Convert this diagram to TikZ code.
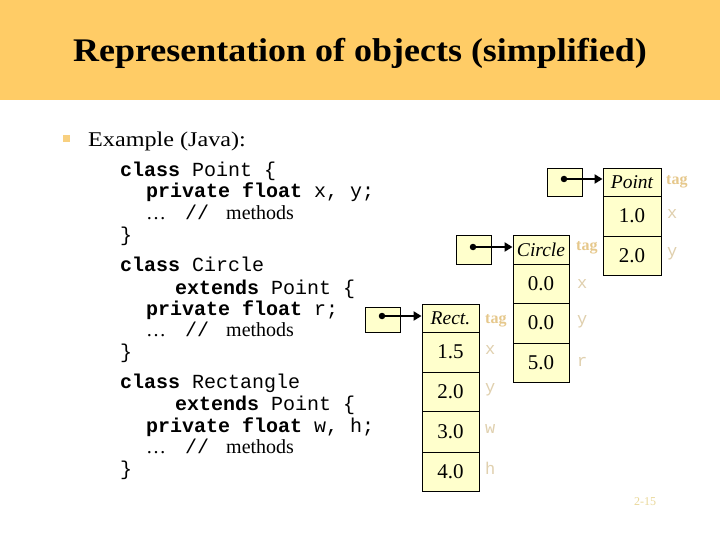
\documentclass[tikz,border=0pt]{standalone}
\usepackage{fontspec}
\setmainfont{Liberation Serif}
\setmonofont{Liberation Mono}
\usetikzlibrary{arrows.meta}
\definecolor{hdr}{HTML}{FFCC66}
\definecolor{cellfill}{HTML}{FFFFCC}
\definecolor{tagc}{HTML}{E6C88C}
\definecolor{fldc}{HTML}{E0D0AE}
\definecolor{pgc}{HTML}{EAD89A}
\definecolor{bul}{HTML}{F8D080}
\tikzset{
  cell/.style={draw=black, line width=0.9pt, fill=cellfill, inner sep=0pt, font=\fontsize{21}{23}\selectfont},
  tagcell/.style={cell, font=\fontsize{19.5}{21}\selectfont\itshape},
  ptr/.style={draw=black, line width=0.9pt, fill=cellfill, inner sep=0pt, minimum width=35pt},
  code/.style={anchor=base west, inner sep=0pt, font=\fontsize{20}{22}\selectfont\ttfamily},
  codert/.style={anchor=base west, inner sep=0pt, font=\fontsize{20}{22}\selectfont\rmfamily},
  taglbl/.style={anchor=west, inner sep=0pt, text=tagc, font=\fontsize{16}{18}\selectfont\bfseries},
  fldlbl/.style={anchor=west, inner sep=0pt, text=fldc, font=\fontsize{17}{19}\selectfont\ttfamily},
  refarrow/.style={line width=2.8pt, -{Triangle[length=8pt,width=9pt]}},
  dotmark/.style={circle, fill=black, inner sep=0pt, minimum size=6.5pt}
}
\begin{document}
\begin{tikzpicture}[x=1pt,y=-1pt]
\useasboundingbox (0,0) rectangle (720,540);
\fill[white] (0,0) rectangle (720,540);
\fill[hdr] (0,0) rectangle (720,100);
\node[anchor=base, inner sep=0pt, font=\fontsize{33}{36}\selectfont\bfseries] (title) at (360,62) {\scalebox{1.09}[1]{Representation of objects (simplified)}};
% bullet
\node[fill=bul, minimum size=7pt, inner sep=0pt] (bullet) at (66,139) {};
\node[anchor=base west, inner sep=0pt, font=\fontsize{21}{23}\selectfont] (ex) at (88,147) {\scalebox{1.15}[1]{Example (Java):}};
% code block 1
\node[code] (c1) at (120,177) {\textbf{class} Point \{};
\node[code] (c2) at (146,198) {\textbf{private float} x, y;};
\node[codert] (c3a) at (146,219) {\ldots};
\node[code] (c3b) at (185,219) {//};
\node[codert] (c3c) at (226,219) {methods};
\node[code] (c4) at (120,241) {\}};
% code block 2
\node[code] (c5) at (120,271) {\textbf{class} Circle};
\node[code] (c6) at (175,294) {\textbf{extends} Point \{};
\node[code] (c7) at (146,315) {\textbf{private float} r;};
\node[codert] (c8a) at (146,336) {\ldots};
\node[code] (c8b) at (185,336) {//};
\node[codert] (c8c) at (226,336) {methods};
\node[code] (c9) at (120,358) {\}};
% code block 3
\node[code] (c10) at (120,388) {\textbf{class} Rectangle};
\node[code] (c11) at (175,410) {\textbf{extends} Point \{};
\node[code] (c12) at (146,432) {\textbf{private float} w, h;};
\node[codert] (c13a) at (146,453) {\ldots};
\node[code] (c13b) at (185,453) {//};
\node[codert] (c13c) at (226,453) {methods};
\node[code] (c14) at (120,475) {\}};
% Point object
\node[tagcell, minimum width=58pt, minimum height=28pt] (ptag) at (632,182) {Point};
\node[cell, minimum width=58pt, minimum height=40pt] (px) at (632,216) {1.0};
\node[cell, minimum width=58pt, minimum height=39pt] (py) at (632,255.5) {2.0};
\node[taglbl] (ptagl) at (666,182) {tag};
\node[fldlbl] (pxl) at (667,214) {x};
\node[fldlbl] (pyl) at (667,254) {y};
% Circle object
\node[tagcell, minimum width=56pt, minimum height=29pt] (ctag) at (541,249.5) {Circle};
\node[cell, minimum width=56pt, minimum height=39pt] (cx) at (541,283.5) {0.0};
\node[cell, minimum width=56pt, minimum height=40pt] (cy) at (541,323) {0.0};
\node[cell, minimum width=56pt, minimum height=39pt] (cr) at (541,362.5) {5.0};
\node[taglbl] (ctagl) at (576,248) {tag};
\node[fldlbl] (cxl) at (577,284) {x};
\node[fldlbl] (cyl) at (577,322) {y};
\node[fldlbl] (crl) at (577,362) {r};
% Rectangle object
\node[tagcell, minimum width=57pt, minimum height=28pt] (rtag) at (450.5,318) {Rect.};
\node[cell, minimum width=57pt, minimum height=40pt] (rx) at (450.5,352) {1.5};
\node[cell, minimum width=57pt, minimum height=39pt] (ry) at (450.5,391.5) {2.0};
\node[cell, minimum width=57pt, minimum height=41pt] (rw) at (450.5,431.5) {3.0};
\node[cell, minimum width=57pt, minimum height=39pt] (rh) at (450.5,471.5) {4.0};
\node[taglbl] (rtagl) at (485,321) {tag};
\node[fldlbl] (rxl) at (485,350) {x};
\node[fldlbl] (ryl) at (485,390) {y};
\node[fldlbl] (rwl) at (485,429) {w};
\node[fldlbl] (rhl) at (485,468) {h};
% pointer boxes
\node[ptr, minimum height=28pt] (p1) at (564.5,182) {};
\node[ptr, minimum height=29pt] (p2) at (473.5,249.5) {};
\node[ptr, minimum height=25pt] (p3) at (382.5,320) {};
\node[dotmark] (d1) at (564,179) {};
\node[dotmark] (d2) at (473,247) {};
\node[dotmark] (d3) at (382,316) {};
\draw[refarrow] (d1.center) -- (d1.center -| ptag.west);
\draw[refarrow] (d2.center) -- (d2.center -| ctag.west);
\draw[refarrow] (d3.center) -- (d3.center -| rtag.west);
% page number
\node[text=pgc, font=\fontsize{12}{14}\selectfont] (pg) at (645,502) {2-15};
\end{tikzpicture}
\end{document}
